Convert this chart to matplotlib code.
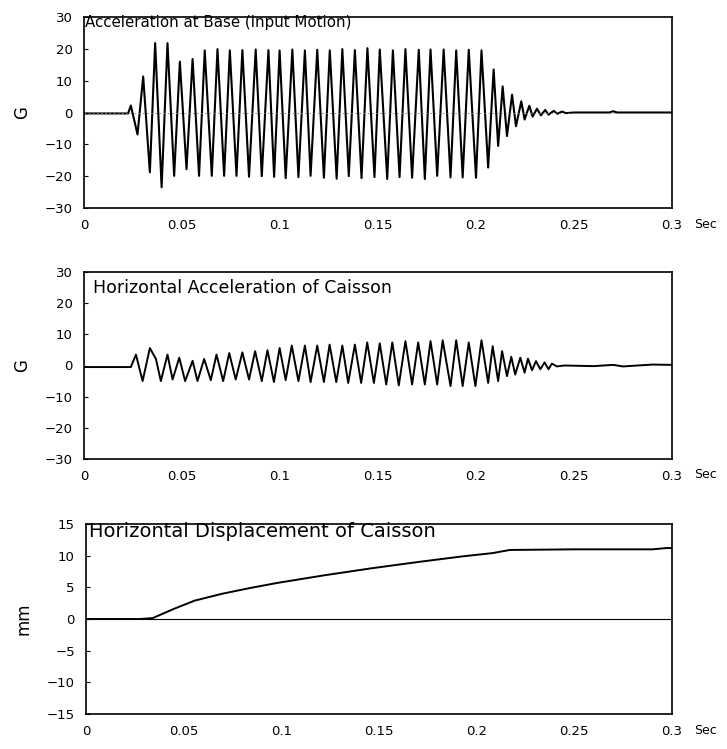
import matplotlib
matplotlib.use("Agg")
import matplotlib.pyplot as plt

# Acceleration at base (input motion), extrema (sec, G)
t_base = [0.0, 0.0225, 0.0239, 0.0273, 0.0302, 0.0336,
          0.0363, 0.0396, 0.0426, 0.0460, 0.0489, 0.0523, 0.0554, 0.0587, 0.0616, 0.0652,
          0.0681, 0.0715, 0.0744, 0.0778, 0.0808, 0.0842, 0.0876, 0.0907, 0.0941, 0.0970,
          0.0998, 0.1029, 0.1063, 0.1094, 0.1127, 0.1156, 0.1190, 0.1224, 0.1254, 0.1289,
          0.1318, 0.1351, 0.1382, 0.1416, 0.1446, 0.1482, 0.1509, 0.1547, 0.1576, 0.1610,
          0.1640, 0.1674, 0.1708, 0.1739, 0.1768, 0.1802, 0.1835, 0.1870, 0.1899, 0.1932,
          0.1963, 0.2000, 0.2028, 0.2062, 0.2090, 0.2113, 0.2136, 0.2158, 0.2184, 0.2204,
          0.2231, 0.2248, 0.2272, 0.2289, 0.2311, 0.2331, 0.2353, 0.2370, 0.2396, 0.2415,
          0.2439, 0.2458, 0.2500, 0.2680, 0.2700, 0.2720, 0.3000]
g_base = [-0.3, -0.3, 2.2, -6.9, 11.3, -18.8,
          21.8, -23.5, 21.8, -19.9, 16.0, -17.8, 16.8, -19.9, 19.5, -19.9,
          19.9, -19.9, 19.5, -19.9, 19.6, -20.2, 19.8, -20.0, 19.6, -20.2,
          19.5, -20.6, 19.8, -20.3, 19.5, -19.9, 19.7, -20.5, 19.5, -20.8,
          19.9, -20.0, 19.6, -20.6, 20.2, -20.3, 19.8, -20.9, 19.5, -20.3,
          19.9, -20.5, 19.7, -20.9, 19.8, -19.9, 19.8, -20.4, 19.5, -20.4,
          19.7, -20.5, 19.5, -17.3, 13.5, -10.5, 8.2, -7.4, 5.6, -4.3,
          3.5, -2.2, 2.1, -1.3, 1.2, -0.9, 0.8, -0.7, 0.5, -0.4,
          0.3, -0.2, 0.0, 0.0, 0.4, 0.0, 0.0]

# Horizontal acceleration of caisson (sec, G)
t_cais = [0.0, 0.0239, 0.0265, 0.0299, 0.0336, 0.0367, 0.0392, 0.0426, 0.0452, 0.0486,
          0.0516, 0.0554, 0.0579, 0.0613, 0.0647, 0.0676, 0.0710, 0.0741, 0.0774, 0.0808,
          0.0842, 0.0873, 0.0907, 0.0936, 0.0969, 0.0998, 0.1029, 0.1060, 0.1094, 0.1127,
          0.1156, 0.1190, 0.1224, 0.1253, 0.1287, 0.1318, 0.1348, 0.1382, 0.1414, 0.1445,
          0.1479, 0.1509, 0.1542, 0.1573, 0.1606, 0.1640, 0.1674, 0.1705, 0.1739, 0.1768,
          0.1802, 0.1830, 0.1870, 0.1899, 0.1932, 0.1963, 0.1997, 0.2028, 0.2062, 0.2085,
          0.2113, 0.2133, 0.2158, 0.2180, 0.2200, 0.2226, 0.2248, 0.2265, 0.2286, 0.2306,
          0.2328, 0.2350, 0.2370, 0.2387, 0.2413, 0.2450, 0.2600, 0.2700, 0.2750, 0.2850,
          0.2900, 0.3000]
g_cais = [-0.5, -0.5, 3.5, -5.0, 5.6, 2.1, -5.0, 3.5, -4.5, 2.5,
          -5.0, 1.5, -5.0, 2.1, -4.7, 3.5, -5.0, 4.0, -4.5, 4.2,
          -4.5, 4.6, -5.0, 4.9, -5.3, 5.6, -4.7, 6.4, -5.0, 6.4,
          -5.3, 6.4, -5.3, 6.7, -5.3, 6.4, -5.6, 6.7, -5.6, 7.4,
          -5.6, 7.1, -6.1, 7.4, -6.4, 7.8, -6.1, 7.4, -6.1, 7.8,
          -6.1, 8.1, -6.6, 8.1, -6.6, 7.4, -6.6, 8.1, -5.6, 6.2,
          -5.0, 4.6, -3.4, 2.8, -2.9, 2.5, -2.3, 2.2, -1.5, 1.4,
          -1.2, 1.0, -1.2, 0.6, -0.3, 0.0, -0.2, 0.2, -0.3, 0.1,
          0.3, 0.2]

# Horizontal displacement of caisson (sec, mm)
t_disp = [0.0, 0.028, 0.0342, 0.045, 0.0556, 0.0699, 0.0841, 0.098, 0.122,
          0.146, 0.170, 0.193, 0.208, 0.217, 0.25, 0.29, 0.297, 0.3]
d_disp = [0.0, 0.0, 0.15, 1.6, 2.9, 4.0, 4.9, 5.7, 6.9,
          8.0, 9.0, 9.9, 10.4, 10.9, 11.0, 11.0, 11.2, 11.2]

x_ticks = [0, 0.05, 0.1, 0.15, 0.2, 0.25, 0.3]
x_labels = ["0", "0.05", "0.1", "0.15", "0.2", "0.25", "0.3"]

fig = plt.figure(figsize=(7.27, 7.49), dpi=100)
W, H = 727, 749


def make_axes(top, bottom, left=84, right=672):
    return fig.add_axes([left / W, 1 - bottom / H, (right - left) / W, (bottom - top) / H])


def style(ax, ylim, yticks, ylabel, title, title_size, title_x, title_y, labelpad):
    ax.set_xlim(0, 0.3)
    ax.set_ylim(*ylim)
    ax.set_yticks(yticks)
    ax.set_yticklabels([str(v).replace("-", "\u2212") for v in yticks], fontsize=9.5)
    ax.set_xticks(x_ticks)
    ax.set_xticklabels(x_labels, fontsize=9.5)
    ax.tick_params(axis="x", length=0, pad=8)
    ax.tick_params(axis="y", direction="in", length=3, pad=8)
    for s in ax.spines.values():
        s.set_linewidth(1.2)
        s.set_color("black")
    ax.set_ylabel(ylabel, fontsize=12, labelpad=labelpad)
    ax.text(title_x, title_y, title, transform=ax.transAxes, fontsize=title_size,
            ha="left", va="top")
    ax.text(1.038, -0.085, "Sec", transform=ax.transAxes, fontsize=9,
            ha="left", va="center")


ax1 = make_axes(17, 208)
ax1.plot(t_base, g_base, color="black", lw=1.5)
ax1.axhline(0, color="gray", lw=0.6, ls=(0, (2, 3)))
style(ax1, (-30, 30), [30, 20, 10, 0, -10, -20, -30], "G",
      "Acceleration at Base (Input Motion)", 10.8, 0.002, 1.01, 10)

ax2 = make_axes(272, 459)
ax2.plot(t_cais, g_cais, color="black", lw=1.4)
style(ax2, (-30, 30), [30, 20, 10, 0, -10, -20, -30], "G",
      "Horizontal Acceleration of Caisson", 12.5, 0.015, 0.96, 10)

ax3 = make_axes(524, 714, left=86)
ax3.plot(t_disp, d_disp, color="black", lw=1.4)
ax3.axhline(0, color="black", lw=0.8)
style(ax3, (-15, 15), [15, 10, 5, 0, -5, -10, -15], "mm",
      "Horizontal Displacement of Caisson", 14, 0.005, 1.01, 10)

fig.savefig("out.png", dpi=100)
